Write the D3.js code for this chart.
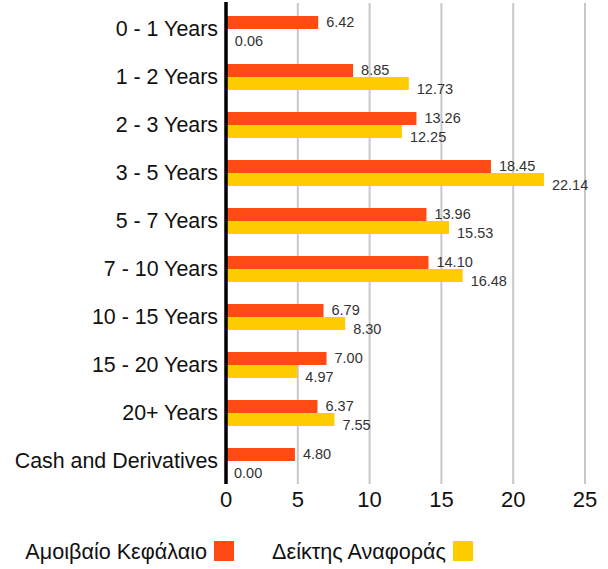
<!DOCTYPE html>
<html>
<head>
<meta charset="utf-8">
<script src="https://cdn.jsdelivr.net/npm/d3@7"></script>
<style>
  html, body { margin: 0; padding: 0; background: #fff; }
  svg { display: block; font-family: "Liberation Sans", Arial, sans-serif; }
</style>
</head>
<body>
<svg id="chart" width="608" height="569"></svg>
<script>
const categories = ["0 - 1 Years", "1 - 2 Years", "2 - 3 Years", "3 - 5 Years", "5 - 7 Years",
  "7 - 10 Years", "10 - 15 Years", "15 - 20 Years", "20+ Years", "Cash and Derivatives"];
const seriesNames = ["Αμοιβαίο Κεφάλαιο", "Δείκτης Αναφοράς"];
const fundValues = [6.42, 8.85, 13.26, 18.45, 13.96, 14.10, 6.79, 7.00, 6.37, 4.80];
const benchValues = [0.06, 12.73, 12.25, 22.14, 15.53, 16.48, 8.30, 4.97, 7.55, 0.00];
const xTicks = [0, 5, 10, 15, 20, 25];
const colors = ["#FF4A14", "#FFCC00"];

const svg = d3.select("#chart");
const x = d3.scaleLinear().domain([0, 25]).range([226, 585]);
const y = d3.scaleBand().domain(categories).range([5, 485]).padding(0);
const inner = d3.scaleBand().domain(seriesNames).range([0, y.bandwidth()])
  .paddingInner(0).paddingOuter((y.bandwidth() / 13 - 2) / 2);

// grid lines
svg.append("g").selectAll("line").data(xTicks.filter(t => t > 0)).join("line")
  .attr("x1", d => x(d)).attr("x2", d => x(d))
  .attr("y1", 3).attr("y2", 484)
  .attr("stroke", "#c8c8c8").attr("stroke-width", 2);

const rows = categories.map((c, i) => ({ c, vals: [fundValues[i], benchValues[i]] }));

const g = svg.append("g");
rows.forEach(r => {
  r.vals.forEach((v, k) => {
    const yy = y(r.c) + inner(seriesNames[k]);
    g.append("rect")
      .attr("x", x(0)).attr("y", yy)
      .attr("width", x(v) - x(0)).attr("height", inner.bandwidth())
      .attr("fill", colors[k]);
    g.append("text")
      .attr("x", x(v) + 8)
      .attr("y", yy + inner.bandwidth() / 2 + (k === 0 ? -1 : 5))
      .attr("dominant-baseline", "central")
      .attr("font-size", 14.5).attr("fill", "#333")
      .text(v.toFixed(2));
  });
});

// zero axis line
svg.append("line").attr("x1", x(0)).attr("x2", x(0)).attr("y1", 2).attr("y2", 484)
  .attr("stroke", "#000").attr("stroke-width", 3.5);

// category labels
svg.append("g").selectAll("text").data(categories).join("text")
  .attr("x", 218).attr("y", d => y(d) + y.bandwidth() / 2)
  .attr("text-anchor", "end").attr("dominant-baseline", "central")
  .attr("font-size", 21.4).attr("fill", "#111")
  .text(d => d);

// x tick labels
svg.append("g").selectAll("text").data(xTicks).join("text")
  .attr("x", d => x(d)).attr("y", 499)
  .attr("text-anchor", "middle").attr("dominant-baseline", "central")
  .attr("font-size", 22).attr("fill", "#111")
  .text(d => d);

// legend
const legendEnds = [207, 446];
seriesNames.forEach((s, k) => {
  svg.append("text").attr("x", legendEnds[k]).attr("y", 559)
    .attr("text-anchor", "end").attr("font-size", 21.6).attr("fill", "#111").text(s);
  svg.append("rect").attr("x", legendEnds[k] + 7).attr("y", 541)
    .attr("width", 20).attr("height", 20).attr("fill", colors[k]);
});
</script>
</body>
</html>
